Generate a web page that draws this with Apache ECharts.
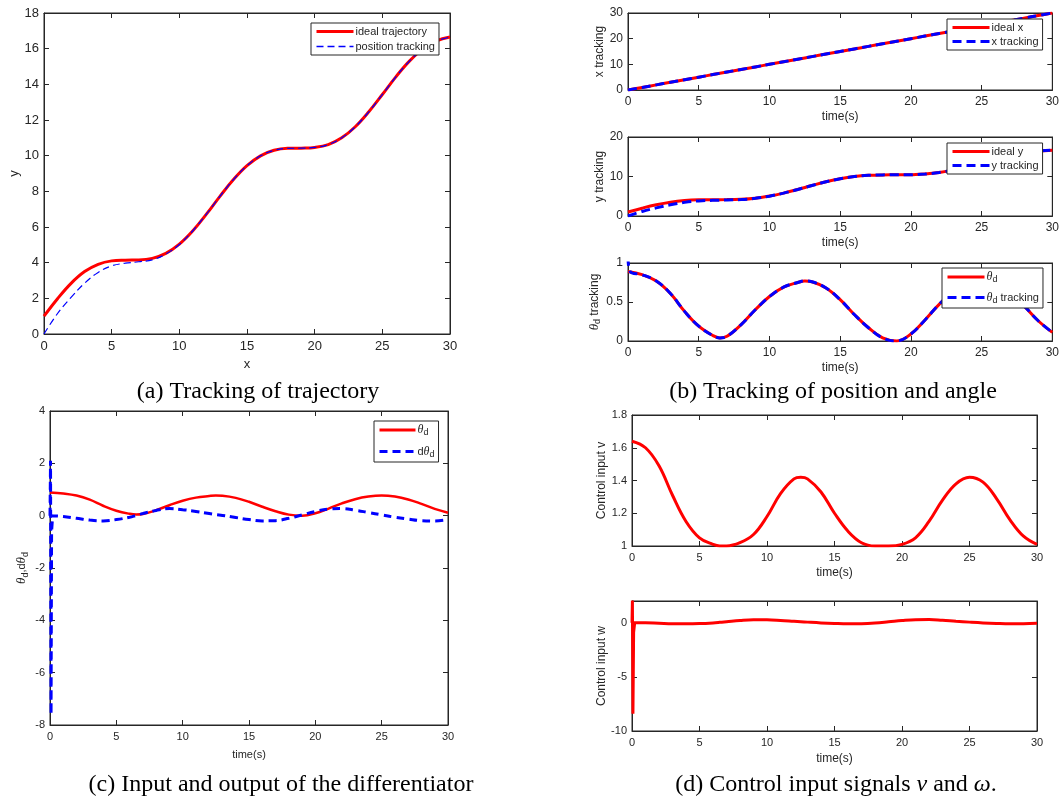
<!DOCTYPE html>
<html>
<head>
<meta charset="utf-8">
<script src="https://cdn.jsdelivr.net/npm/echarts@6/dist/echarts.min.js"></script>
<style>html,body{margin:0;background:#fff}#main{width:1062px;height:805px}</style>
</head>
<body>
<div id="main"></div>
<script>
// time axis (s), also the ideal / tracked x position
var timeS  = [0,1,2,3,4,5,6,7,8,9,10,11,12,13,14,15,16,17,18,19,20,21,22,23,24,25,26,27,28,29,30];
var xIdeal = [0,1,2,3,4,5,6,7,8,9,10,11,12,13,14,15,16,17,18,19,20,21,22,23,24,25,26,27,28,29,30];
var xTrack = [0,1,2,3,4,5,6,7,8,9,10,11,12,13,14,15,16,17,18,19,20,21,22,23,24,25,26,27,28,29,30];

var yIdeal = [1.00,1.98,2.84,3.50,3.91,4.10,4.14,4.15,4.24,4.52,5.04,5.79,6.72,7.72,8.66,9.44,9.99,10.30,10.41,10.42,10.46,10.62,11.00,11.62,12.46,13.43,14.42,15.30,15.99,16.43,16.65];
var yTrack = [0.00,1.15,2.05,2.85,3.45,3.82,3.97,4.05,4.16,4.48,5.02,5.79,6.72,7.72,8.66,9.44,9.99,10.30,10.41,10.42,10.46,10.62,11.00,11.62,12.46,13.43,14.42,15.30,15.99,16.43,16.65];

// sample times for the periodic signals (extra points at the turning points)
var timeK = [0,1,2,3,4,5,6,6.5,7,8,9,10,11,12,12.5,13,14,15,16,17,18,19,20,21,22,23,24,25,26,27,28,29,30];

var thetaIdeal = [0.89,0.85,0.77,0.61,0.38,0.19,0.07,0.04,0.06,0.21,0.40,0.57,0.69,0.75,0.77,0.76,0.68,0.53,0.34,0.17,0.04,0.00,0.09,0.27,0.47,0.63,0.73,0.77,0.73,0.62,0.45,0.26,0.11];
var thetaTrack = [1.08,0.85,0.77,0.61,0.38,0.19,0.07,0.04,0.06,0.21,0.40,0.57,0.69,0.75,0.77,0.76,0.68,0.53,0.34,0.17,0.04,0.00,0.09,0.27,0.47,0.63,0.73,0.77,0.73,0.62,0.45,0.26,0.11];

// differentiator output, with the start-up spike kept apart
var dThetaSpikeT = [0,0.04,0.08,0.12,0.2];
var dThetaSpikeV = [0,2.1,-7.6,-0.6,0];
var dTheta = [0.00,-0.03,-0.10,-0.17,-0.20,-0.15,-0.06,0.01,0.08,0.20,0.27,0.23,0.16,0.08,0.04,0.01,-0.07,-0.15,-0.20,-0.19,-0.10,0.03,0.16,0.25,0.27,0.21,0.12,0.03,-0.06,-0.13,-0.19,-0.20,-0.15];

var vInput = [1.64,1.60,1.49,1.31,1.15,1.05,1.01,1.00,1.00,1.02,1.07,1.18,1.32,1.41,1.42,1.41,1.33,1.20,1.09,1.02,1.00,1.00,1.01,1.05,1.15,1.28,1.38,1.42,1.39,1.29,1.16,1.06,1.01];
var wSpikeT = [0,0.03,0.07,0.12,0.2];
var wSpikeV = [0,2.05,-8.4,-0.9,0];
var wInput = [0.00,-0.01,-0.05,-0.09,-0.10,-0.08,-0.02,0.03,0.09,0.21,0.28,0.27,0.21,0.13,0.09,0.05,-0.02,-0.07,-0.10,-0.09,-0.03,0.08,0.20,0.28,0.29,0.22,0.13,0.05,-0.02,-0.07,-0.10,-0.10,-0.06];

function pairs(xs, ys){
	var out = [];
	for(var i = 0; i < xs.length; i++){ out.push([xs[i], ys[i]]); }
	return out;
}

var dark = '#262626';
var RED = '#ff0000', BLUE = '#0000ff';

var grids = [
	{left:44,  top:13,  width:406, height:321},
	{left:628, top:13,  width:425, height:77},
	{left:628, top:137, width:425, height:79},
	{left:628, top:263, width:425, height:78},
	{left:50,  top:411, width:398, height:314},
	{left:632, top:415, width:405, height:131},
	{left:632, top:601, width:405, height:130}
];

// [xName, xGap, yMin, yMax, yInterval, yName, yGap, fontSize]
var axSpec = [
	['x',       24, 0, 18, 2,   'y',               22, 13],
	['time(s)', 21, 0, 30, 10,  'x tracking',      17, 12],
	['time(s)', 21, 0, 20, 10,  'y tracking',      17, 12],
	['time(s)', 21, 0, 1,  0.5, '{t|θ}{s|d} tracking', 24, 12],
	['time(s)', 24, -8, 4, 2,   '{t|θ}{s|d},d{t|θ}{s|d}', 20, 11],
	['time(s)', 21, 1, 1.8, 0.2,'Control input v', 23, 12],
	['time(s)', 22, -10, 2, 5,  'Control input w', 23, 12]
];

var richName = {
	t:{fontStyle:'italic', fontFamily:'Liberation Serif', fontSize:13, color:dark},
	s:{fontSize:9, color:dark, fontFamily:'Liberation Sans', padding:[7,0,0,0]}
};

var xAxes = [], yAxes = [];
axSpec.forEach(function(s, i){
	var fs = s[7];
	var lf = i >= 4 ? 11 : fs;
	var base = {
		gridIndex:i, type:'value',
		axisLine:{show:true, onZero:false, lineStyle:{color:dark, width:1}},
		axisTick:{show:true, inside:true, length:5, lineStyle:{color:dark}},
		splitLine:{show:false}
	};
	xAxes.push(Object.assign({}, base, {
		position:'bottom', min:0, max:30, interval:5,
		name:s[0], nameLocation:'middle', nameGap:s[1],
		nameTextStyle:{color:dark, fontSize:fs, fontFamily:'Liberation Sans'},
		axisLabel:{color:dark, fontSize:lf, fontFamily:'Liberation Sans', margin:6}
	}));
	xAxes.push(Object.assign({}, base, {
		position:'top', min:0, max:30, interval:5, axisLabel:{show:false}
	}));
	yAxes.push(Object.assign({}, base, {
		position:'left', min:s[2], max:s[3], interval:s[4],
		name:s[5], nameLocation:'middle', nameGap:s[6], nameRotate:90,
		nameTextStyle:{color:dark, fontSize:fs, fontFamily:'Liberation Sans', rich:richName},
		axisLabel:{color:dark, fontSize:lf, fontFamily:'Liberation Sans', margin:5, showMaxLabel: i !== 6}
	}));
	yAxes.push(Object.assign({}, base, {
		position:'right', min:s[2], max:s[3], interval:s[4], axisLabel:{show:false}
	}));
});

function line(name, g, data, color, width, dash, smooth){
	return {
		name:name, type:'line', xAxisIndex:2*g, yAxisIndex:2*g,
		data:data, showSymbol:false, symbol:'none', smooth:smooth === undefined ? 0.4 : smooth,
		lineStyle:{color:color, width:width, type:dash ? dash : 'solid'},
		itemStyle:{color:color}, animation:false, silent:true
	};
}

var thetaTrackData = [[0, thetaTrack[0]], [0.15, 0.89]].concat(pairs(timeK.slice(1), thetaTrack.slice(1)));

var series = [
	line('ideal trajectory', 0, pairs(xIdeal, yIdeal), RED, 3),
	line('position tracking', 0, pairs(xTrack, yTrack), BLUE, 1.2, [7,4]),
	line('ideal x', 1, pairs(timeS, xIdeal), RED, 3),
	line('x tracking', 1, pairs(timeS, xTrack), BLUE, 3, [9,5]),
	line('ideal y', 2, pairs(timeS, yIdeal), RED, 3),
	line('y tracking', 2, pairs(timeS, yTrack), BLUE, 3, [9,5]),
	line('thetab', 3, pairs(timeK, thetaIdeal), RED, 3),
	line('thetab tracking', 3, thetaTrackData, BLUE, 3, [9,5]),
	line('thetac', 4, pairs(timeK, thetaIdeal), RED, 2.5),
	line('dthetac', 4, pairs(timeK, dTheta), BLUE, 3, [8,5]),
	line('dthetac spike', 4, pairs(dThetaSpikeT, dThetaSpikeV), BLUE, 3, [8,5], false),
	line('v', 5, pairs(timeK, vInput), RED, 3),
	line('w', 6, pairs(timeK, wInput), RED, 3),
	line('w spike', 6, pairs(wSpikeT, wSpikeV), RED, 3, null, false)
];

var legendRich = {
	t:{fontStyle:'italic', fontFamily:'Liberation Serif', fontSize:12, color:dark},
	s:{fontSize:9, color:dark, fontFamily:'Liberation Sans', padding:[6,0,0,0]}
};
var legendNames = {
	'thetab':'{t|θ}{s|d}', 'thetab tracking':'{t|θ}{s|d} tracking',
	'thetac':'{t|θ}{s|d}', 'dthetac':'d{t|θ}{s|d}'
};
function legend(names, left, top, w, gap, widths){
	return {
		data:names.map(function(n, k){ return {name:n, lineStyle:{width:widths[k]}}; }),
		left:left, top:top, orient:'vertical', selectedMode:false,
		itemWidth:w, itemHeight:10, itemGap:gap,
		itemStyle:{color:'rgba(0,0,0,0)', borderWidth:0, opacity:0},
		lineStyle:{width:3},
		padding:[3,4,3,4], borderColor:dark, borderWidth:1, backgroundColor:'#fff',
		textStyle:{fontSize:11, color:dark, fontFamily:'Liberation Sans', rich:legendRich, padding:[0,0,0,-3]},
		formatter:function(n){ return legendNames[n] || n; }
	};
}

var capFont = {fontFamily:'Liberation Serif', fontSize:24, fill:'#000'};
function caption(text, x, y, rich){
	return {type:'text', x:x, y:y, style:Object.assign({text:text, textAlign:'center', textVerticalAlign:'middle', rich:rich}, capFont)};
}

var myChart = echarts.init(document.getElementById('main'));
var option = {
	backgroundColor:'#fff',
	animation:false,
	grid:grids.map(function(g){ return Object.assign({show:true, borderColor:dark, borderWidth:1, containLabel:false}, g); }),
	xAxis:xAxes,
	yAxis:yAxes,
	legend:[
		legend(['ideal trajectory','position tracking'], 311, 23, 37, 4, [3, 1.5]),
		legend(['ideal x','x tracking'], 947, 19, 37, 3, [3, 3]),
		legend(['ideal y','y tracking'], 947, 143, 37, 3, [3, 3]),
		legend(['thetab','thetab tracking'], 942, 268, 37, 7, [3, 3]),
		legend(['thetac','dthetac'], 374, 421, 36, 8, [3, 3])
	],
	series:series,
	graphic:[
		caption('(a) Tracking of trajectory', 258, 392),
		caption('(b) Tracking of position and angle', 833, 392),
		caption('(c) Input and output of the differentiator', 281, 785),
		caption('(d) Control input signals {i|v} and {i|ω}.', 836, 785,
			{i:{fontStyle:'italic', fontFamily:'Liberation Serif', fontSize:24, fill:'#000'}})
	]
};
myChart.setOption(option);
</script>
</body>
</html>
